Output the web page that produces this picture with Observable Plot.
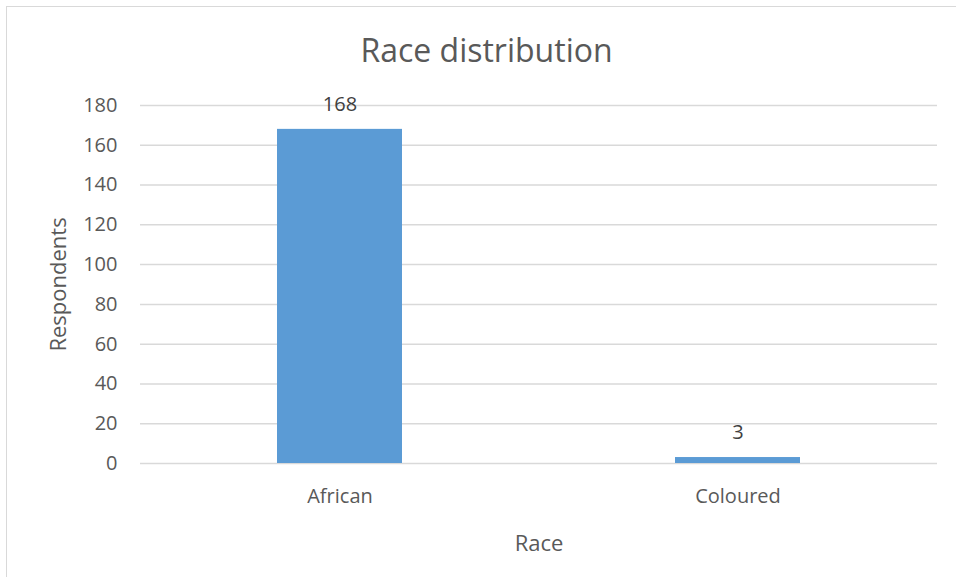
<!DOCTYPE html>
<html>
<head>
<meta charset="utf-8">
<script src="https://cdn.jsdelivr.net/npm/d3@7"></script>
<script src="https://cdn.jsdelivr.net/npm/@observablehq/plot@0.6"></script>
<style>
  html, body { margin: 0; padding: 0; background: #fff; }
  body { width: 956px; height: 577px; overflow: hidden; position: relative; font-family: "Open Sans", sans-serif; }
  #frame { position: absolute; left: 6px; top: 6px; width: 1000px; height: 620px; border: 1px solid #d9d9d9; z-index: 2; pointer-events: none; }
  #title { position: absolute; left: 17px; width: 939px; top: 34px; height: 32px; line-height: 32px; text-align: center; font-size: 32px; color: #595959; margin: 0; font-weight: normal; }
  #chart { position: absolute; left: 0; top: 80px; }
</style>
</head>
<body>
<div id="frame"></div>
<h1 id="title">Race distribution</h1>
<div id="chart"></div>
<script>
// Respondents by race
const races = ["African", "Coloured"];
const respondents = [168, 3];
const yTicks = [0, 20, 40, 60, 80, 100, 120, 140, 160, 180];
const xTitle = "Race";
const yTitle = "Respondents";

const rows = races.map((race, i) => ({race, count: respondents[i]}));

const chart = Plot.plot({
  width: 956,
  height: 497,
  marginLeft: 140,
  marginRight: 19,
  marginTop: 25,
  marginBottom: 114,
  style: {fontFamily: "Open Sans, sans-serif", fontSize: "20px", color: "#595959", background: "transparent"},
  x: {domain: races, paddingInner: 0.686, paddingOuter: 0.343},
  y: {domain: [0, 180]},
  marks: [
    Plot.ruleY(yTicks, {stroke: "#d9d9d9", strokeWidth: 1.5}),
    Plot.barY(rows, {x: "race", y: "count", fill: "#5b9bd5"}),
    Plot.text(rows, {x: "race", y: "count", text: d => String(d.count), dy: -25, lineAnchor: "middle", fill: "#404040", fontSize: 20}),
    Plot.axisY({ticks: yTicks, tickSize: 0, tickPadding: 23, label: null, fontSize: 20}),
    Plot.axisX({tickSize: 0, tickPadding: 25, label: null, fontSize: 20}),
    // axis titles
    Plot.text([xTitle], {frameAnchor: "bottom", text: d => d, dy: 80, lineAnchor: "middle", fontSize: 22, fill: "#595959"}),
    Plot.text([yTitle], {frameAnchor: "left", text: d => d, rotate: -90, dx: -82, textAnchor: "middle", lineAnchor: "middle", fontSize: 22, fill: "#595959"})
  ]
});
document.getElementById("chart").appendChild(chart);
</script>
</body>
</html>
